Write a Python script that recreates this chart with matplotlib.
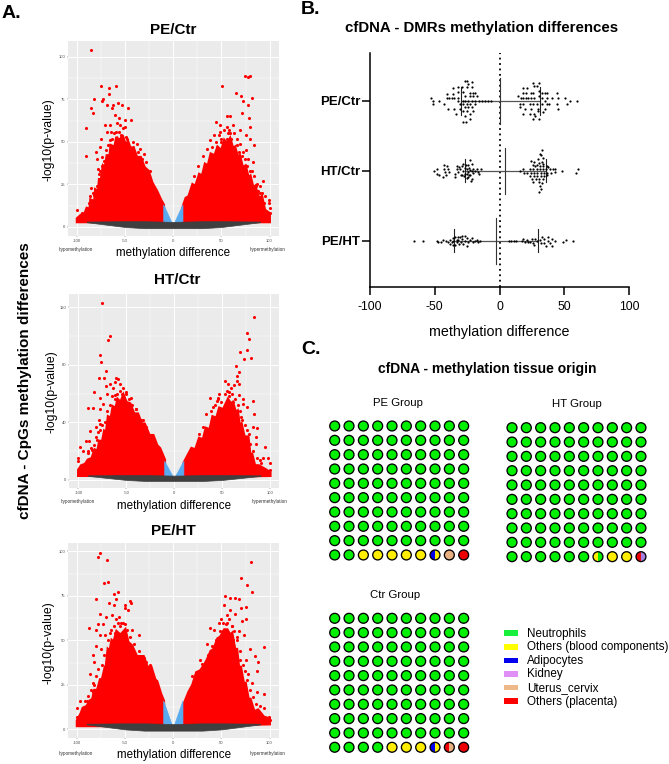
"""Recreate the cfDNA methylation figure (volcano plots, swarm plot, waffle charts)."""

import matplotlib.pyplot as plt
from matplotlib.patches import Circle, Rectangle, Wedge

plt.rcParams["font.family"] = ["Liberation Sans", "DejaVu Sans"]

W, H = 669, 764

# Panel A: outline of the solid red cloud, then the points standing clear of it
pe_ctr_red_x = [-100, -96, -92, -90, -87, -86, -82, -81, -78, -77, -75, -73, -71, -69, -66, -65, -61, -59, -56,
                -53, -50, -47, -44, -41, -38, -34, -30, -26, -22, -17, -13, -10, -10, -100]
pe_ctr_red_y = [5, 7, 8, 11, 10, 16, 15, 22, 21, 28, 28, 36, 35, 42, 42, 48, 47, 53, 50,
                54, 49, 50, 45, 46, 41, 41, 35, 33, 26, 21, 16, 13, 3, 3]
pe_ctr_red_rx = [10, 13, 16, 20, 23, 27, 30, 33, 36, 39, 43, 46, 50, 53, 56, 59, 62, 64, 67, 69, 72, 75, 78, 80,
                 83, 85, 89, 92, 95, 100, 100, 10]
pe_ctr_red_ry = [12, 17, 18, 25, 24, 31, 30, 37, 36, 43, 42, 47, 45, 51, 49, 52, 46, 47, 41, 42, 35, 36, 29, 30,
                 23, 24, 17, 18, 10, 8, 3, 3]
pe_ctr_out_x = [-86, -75, -67, -60, -67, -82, -73, -74, -86, -84, -91, -91, -69, -63, -58, -53, -47, -64,
                -61, -56, -50, -44, -71, -66, -59, -50, -69, -62, -56, -49, -75, -66, -59, -42, -38, -76,
                -80, -79, -74, -78, -76, -86, -87, -82, -88, -90, -100, -95, -35, -31, -28, -24, -80,
                50.3, 65.6, 70.5, 72, 74.6, 77.4, 80, 82, 78, 71, 79, 55.6, 59, 44, 48.6, 55.6, 62.5, 80,
                69, 48.6, 59, 75, 42, 55.6, 66, 80, 38, 50, 69, 84, 35, 62.5, 76, 71, 78, 83, 82, 93, 87,
                90, 95.5, 99, 99, 100, 100, 31, 26, 21, 88.5, 94, 83, 88.5,
                -84, -83, -80, -79, -77, -77, -74, -72, -70, -68, -64, -60, -57, -54, -52, -48, -45, -42, -37, -33,
                -65, -55, 40, 44, 47, 50, 53, 57, 60, 63, 66, 68, 72, 74, 77, 80, 84, 86, 90, 92, 58, 45]
pe_ctr_out_y = [104, 83, 82, 83, 78, 75, 75, 74, 70, 67, 58, 42, 72, 72, 73, 72, 70, 70,
                66, 64, 63, 63, 60, 60, 61, 59, 56, 55, 56, 53, 52, 51, 50, 50, 49, 47,
                44, 40, 41, 34, 33, 23, 18, 19, 14, 11, 10, 8, 46, 43, 38, 33, 14,
                83, 79, 77, 74, 89, 88, 89, 76, 72, 67, 64, 65, 65, 62, 60, 59, 60, 59,
                57, 56, 55, 54, 54, 52, 52, 52, 51, 50, 49, 48, 46, 47, 45, 42, 40, 38, 33, 27, 25,
                20, 18, 16, 14, 11, 8, 42, 36, 30, 16, 14, 18, 21,
                15, 20, 17, 24, 25, 31, 36, 39, 45, 48, 52, 56, 52, 54, 58, 52, 47, 47, 44, 40,
                56, 60, 47, 50, 54, 52, 57, 55, 52, 55, 48, 44, 44, 40, 36, 33, 30, 24, 24, 20, 57, 47]

ht_ctr_red_x = [-100, -97, -93, -90, -86, -83, -80, -78, -75, -73, -71, -69, -66, -64, -61, -59, -56, -53, -50,
                -46, -42, -38, -34, -31, -26, -22, -18, -15, -10, -10, -100]
ht_ctr_red_y = [7, 10, 11, 14, 15, 21, 20, 27, 27, 34, 33, 44, 43, 51, 50, 56, 54, 59, 54,
                53, 46, 46, 39, 39, 31, 31, 24, 22, 14, 3, 3]
ht_ctr_red_rx = [10, 14, 18, 22, 26, 30, 33, 37, 40, 44, 47, 51, 56, 59, 61, 64, 66, 68, 70, 73, 77, 79, 81, 84,
                 88, 96, 100, 100, 10]
ht_ctr_red_ry = [12, 17, 22, 21, 29, 28, 36, 35, 44, 43, 50, 49, 56, 53, 54, 47, 48, 38, 39, 30, 30, 18, 18, 10,
                 10, 7, 5, 3, 2]
ht_ctr_out_x = [-75, -67, -69, -78, -76, -71, -79, -73, -61, -59, -67, -62, -57, -71, -64, -84, -70, -62,
                -50, -45, -78, -74, -90, -85, -78, -60, -53, -79, -82, -78, -88, -92, -89, -98, -95, -90,
                -86, -81, -100, -100, -97, -40, -33, -29, -21, -78,
                83.5, 76, 78, 68, 75.6, 80, 72.8, 64.5, 67, 65, 65, 53, 55.6, 59.6, 62, 67, 47, 57, 67, 37,
                45.6, 72, 82, 61, 30, 26, 40, 33, 83.5, 72, 76, 70, 82, 86, 78, 85, 95, 85, 92, 97.4,
                100, 100, 89,
                -90, -87, -84, -82, -80, -77, -75, -72, -70, -67, -62, -60, -57, -54, -50, -47, -44, -40, -35,
                -65, -55, 38, 42, 46, 49, 53, 57, 60, 63, 66, 69, 71, 74, 76, 79, 82, 86, 90, 55, 45]
ht_ctr_out_y = [123, 100, 97, 87, 82, 76, 71, 71, 71, 70, 67, 68, 67, 65, 64, 61, 60, 59,
                61, 57, 57, 53, 50, 50, 49, 54, 53, 42, 37, 39, 34, 27, 27, 23, 20, 19,
                21, 28, 15, 13, 9, 49, 42, 37, 28, 23,
                113, 102, 98, 89, 90, 85, 84, 79, 75, 72, 69, 69, 67, 64, 66, 67, 60, 61, 59, 57,
                57, 56, 55, 54, 37, 32, 51, 46, 46, 53, 51, 44, 37, 36, 32, 30, 23, 25, 15, 15,
                12, 7, 14,
                20, 22, 24, 30, 33, 35, 38, 40, 48, 52, 56, 60, 62, 64, 60, 56, 52, 49, 42,
                58, 60, 48, 52, 56, 54, 60, 58, 60, 56, 52, 48, 42, 38, 35, 25, 20, 15, 12, 62, 55]

pe_ht_red_x = [-100, -96, -94, -90, -87, -84, -82, -79, -76, -74, -71, -70, -68, -66, -64, -62, -59, -55, -50,
               -47, -43, -38, -31, -27, -23, -19, -17, -13, -10, -10, -100]
pe_ht_red_y = [5, 9, 12, 13, 16, 17, 22, 22, 28, 28, 35, 35, 45, 44, 50, 49, 55, 53, 56,
               49, 47, 41, 41, 35, 35, 28, 27, 20, 16, 2, 2]
pe_ht_red_rx = [10, 13, 16, 20, 24, 28, 32, 35, 39, 42, 46, 49, 53, 56, 59, 61, 64, 66, 68, 70, 73, 75, 78, 80,
                84, 88, 94, 100, 100, 10]
pe_ht_red_ry = [13, 17, 21, 25, 32, 33, 36, 39, 44, 45, 51, 52, 56, 56, 53, 54, 45, 45, 35, 35, 26, 26, 17, 17,
                10, 11, 7, 6, 3, 2]
pe_ht_out_x = [-76, -78, -69, -72, -68, -62, -58, -60, -80, -67, -62, -45, -44, -50, -50, -47, -76, -70,
               -64, -57, -54, -50, -88, -78, -73, -80, -76, -71, -61, -36, -43, -80, -75, -84, -82, -87,
               -82, -79, -97, -90, -85, -100, -100, -31, -23, -83,
               81, 70, 77, 82, 54, 59, 64, 68, 75, 53, 70, 59, 64, 55.6, 76, 71, 47, 55.6, 38, 42,
               61, 68, 52, 73, 35, 66, 94, 80, 85, 88.5, 75, 87, 78, 94, 87, 82, 90, 99, 100, 94, 28, 19, 69,
               -92, -89, -86, -84, -80, -78, -74, -72, -68, -66, -62, -58, -55, -52, -48, -45, -41, -36, -28, -24,
               -60, -65, 30, 36, 40, 44, 48, 52, 55, 58, 61, 63, 66, 69, 72, 74, 77, 80, 83, 86, 50, 62]
pe_ht_out_y = [99, 97, 95, 82, 83, 76, 77, 73, 73, 71, 70, 72, 71, 70, 68, 67, 65, 63,
               64, 63, 60, 59, 57, 59, 59, 56, 53, 53, 54, 53, 56, 47, 45, 42, 38, 31,
               25, 22, 16, 16, 16, 12, 7, 40, 34, 21,
               94, 85, 81, 77, 75, 74, 74, 73, 69, 70, 68, 67, 65, 64, 62, 61, 60, 60, 57, 56,
               58, 55, 55, 53, 48, 52, 46, 45, 41, 38, 39, 33, 31, 20, 21, 26, 13, 7, 5, 12, 39, 30, 39,
               16, 19, 22, 26, 30, 34, 36, 42, 50, 54, 58, 60, 58, 60, 56, 52, 48, 44, 38, 36,
               62, 56, 37, 42, 47, 50, 55, 60, 59, 62, 58, 55, 50, 44, 36, 33, 28, 22, 18, 14, 62, 50]

# thin band of non-significant CpGs along the bottom of each volcano
grey_x = [-90, -70, -50, -30, 0, 30, 50, 70, 90]
grey_top = [3.2, 3.3, 3.4, 3.4, 3.0, 3.4, 3.4, 3.3, 3.2]
grey_bottom = [2.8, 1.4, 0, -0.7, -0.7, -0.7, 0, 1.4, 2.8]

volcano_titles = ["PE/Ctr", "HT/Ctr", "PE/HT"]
volcano_yticks = [[0, 25, 50, 75, 100], [0, 40, 80, 120], [0, 25, 50, 75, 100]]
volcano_ylims = [(-5.3, 109.4), (-5.8, 129.2), (-5, 104.5)]
blue_heights = [13, 13, 16]

# Panel B: values, and how far each dot sits above its row in pixels
pe_ctr_x = [-53.2, -51.1, -51.6, -46.7, -42.6, -40.3, -40.3, -38.7, -36.4, -35.6, -35.6, -34.9, -39.5, -34.9,
            -33.6, -31.8, -31.8, -32.3, -32.3, -30.5, -30.5, -29.2, -26.7, -25.4, -24.1, -21.5, -25.4, -21.5,
            -28, -22.8, -20.2, -18.9, -26.7, -22.8, -20.2, -17.6, -28.5, -26.7, -24.1, -21.5, -18.9, -15.6,
            -13.8, -11.2, -8.6, -6.8, -28, -25.4, -22.8, -18.9, -26.7, -24.1, -21.5, -28.5, -24.9, -20.2,
            -22.8, -26.7, -22.8, -28, -26,
            14.5, 16.6, 18.4, 20.2, 21.7, 17.9, 21.5, 17.9, 20.2, 24.1, 26.1, 25.6, 30.8, 26.6, 28.7, 30.8,
            32.6, 35.1, 36.4, 44.1, 40.3, 36.9, 45.4, 30.8, 26.6, 24.1, 32.6, 35.1, 15.8, 18.4, 23.5, 25.6,
            28.7, 32.6, 36.4, 38.5, 44.1, 50.6, 54.4, 51.9, 59.6, 15.8, 19.7, 24.1, 30, 35.1, 44.9, 33.8,
            18.4, 23.5, 26.6, 30, 27.4, 26.1, 30.8]
pe_ctr_off = [3, 0, -3, 0, -3, 7, 3, 3, 3, 13, 7, 3, -8, -8,
              -13, 14, 9, 3, 0, -3, -8, 14, 20, 20, 17, 19, 14, 14,
              9, 8, 8, 8, 5, 5, 5, 5, 0, 0, 0, 0, 0, 0,
              0, 0, 0, 0, -3, -3, -3, -3, -6, -6, -6, -10, -10, -10,
              -13, -15, -18, -21, -21,
              5, 3, 3, 3, 3, 13, 13, 8, 8, 8, 8, 18, 18, 15, 15, 10,
              8, 8, 8, 8, 3, 3, 3, 5, 3, 3, 3, 0, -3, -3, -3, -3,
              -3, -3, -3, -3, -3, 3, 0, -3, 0, -6, -8, -8, -8, -8, -8, -11,
              -13, -13, -13, -10, -15, -18, -18]
ht_ctr_x = [-50.6, -48.5, -48, -46.5, -43.9, -42.9, -42.9, -42.1, -41.3, -39.5, -38.7, -40.8, -34.4, -34.4,
            -33.1, -32.6, -31.8, -30.5, -30, -29.2, -28.5, -27.4, -25.9, -25.4, -25.4, -24.1, -23.3, -24.1,
            -22.8, -21.5, -21.5, -22.8, -21.5, -26.7, -24.1, -20.2, -18.9, -17.6, -16.4, -14.6, -15.6, -22.3,
            -29.2, -31, -28, -26.7, -22.8, -20.2, -25.4, -23.3,
            32.6, 31.3, 31.8, 30, 33.3, 24.1, 26.6, 30.8, 32.6, 33.8, 25.6, 27.4, 29.2, 31.3, 33.8, 36.4,
            37.7, 23.5, 26.1, 28.7, 31.3, 33.8, 35.9, 39, 41, 42.8, 48, 42.8, 18.4, 15.8, 18.9, 21.5, 24.1,
            26.6, 29.2, 31.8, 34.4, 36.9, 39.5, 23.5, 26.6, 29.2, 31.8, 34.4, 36.9, 24.8, 28.2, 30.8, 33.3,
            25.6, 30.8, 32.6, 31.3, 31.8, 30.8, 60.9, 59.1]
ht_ctr_off = [0, 2, -3, -4, -6, 6, 2, -1, -4, 2, -1, 5, -3, -6,
              2, 5, -1, 2, -4, 5, 0, -5, 6, 2, -3, 6, 3, -6,
              11, 7, 0, -4, -8, -3, -1, 2, 0, 2, -1, 2, -3, -10,
              -4, 4, 7, 3, 1, -2, -7, -4,
              21, 17, 16, 12, 13, 10, 9, 8, 9, 7, 6, 5, 6, 5, 5, 5,
              4, 2, 2, 2, 2, 2, 2, 2, 2, 2, 0, -1, 2, 0, -2, -2, -2,
              -2, -2, -2, -2, -2, -2, -5, -5, -5, -5, -5, -4, -8, -8, -8, -8,
              -11, -11, -12, -15, -18, -21, 2, -2]
pe_ht_x = [-65.8, -58.8, -48.5, -47.3, -45.2, -43.4, -41.6, -39.5, -38.2, -37, -35.7, -35.7, -35.7, -34.4,
           -33.1, -31.8, -31.3, -30.5, -29.8, -28.7, -28, -26.7, -26.7, -25.4, -25.4, -24.1, -22.8, -21.5,
           -20.2, -19, -17.7, -16.4, -15.1, -33.1, -34.4, -38.2, -29.2, -32.3,
           7.2, 8.5, 11, 13, 17.1, 18.4, 19.6, 20.9, 22.2, 23.5, 24.8, 26.1, 27.4, 28.7, 26.9, 31.2, 32, 33,
           34.6, 34.6, 35.6, 37.1, 37.7, 38.9, 40.2, 40.2, 42.8, 49.2, 51.3, 57]
pe_ht_off = [0, 0, 0, -1, -1, 1, 0, -1, 1, -1, 3, 0, -4, 4,
             -1, 1, -3, 4, -1, 2, -3, 5, 0, -5, 3, -1, 1, 3,
             -1, 0, 1, -1, 0, 1, -4, -3, 5, 4,
             0, 0, 0, 0, 0, 2, -1, 1, -1, -1, 2, -2, 2, 0, -4, 1, -2, 4,
             2, -2, -5, 4, 0, -2, 2, -5, 0, -1, 1, 0]

row_labels = ["PE/Ctr", "HT/Ctr", "PE/HT"]
row_pos = [3, 2, 1]
swarm_means = [0.4, 4.5, -3]
swarm_low = [-30, -27, -35]
swarm_high = [31, 36, 30]
cap_half_px = [14, 11.5, 11.5]

# Panel C: codes for the bottom row of each waffle, pairs are half-and-half dots
tissue_names = ["Neutrophils", "Others (blood components)", "Adipocytes", "Kidney", "Uterus_cervix", "Others (placenta)"]
tissue_colors = {"n": "#00f000", "y": "#ffee00", "a": "#0000ee", "k": "#a080e0", "u": "#e8b080", "r": "#ee0000"}
legend_colors = ["#19f03c", "#ffff00", "#0000ee", "#df8ff5", "#eeb888", "#ff0000"]
pe_last = ["n", "n", "y", "y", "y", "y", "y", ("y", "a"), "u", "r"]
ht_last = ["n", "n", "n", "n", "n", "n", ("n", "y"), "y", "y", ("k", "r")]
ctr_last = ["n", "n", "n", "n", "y", "y", "y", ("y", "a"), ("u", "r"), "r"]


def px_axes(fig, left, top, right, bottom):
    """Add axes given by pixel edges measured from the top left."""
    return fig.add_axes([left / W, 1 - bottom / H, (right - left) / W, (bottom - top) / H])


def px_text(fig, x, y, s, **kwargs):
    kwargs.setdefault("ha", "center")
    kwargs.setdefault("va", "center")
    fig.text(x / W, 1 - y / H, s, **kwargs)


def volcano(ax, left, right, out_x, out_y, yticks, ylim, blue_h):
    ax.set_facecolor("#ebebeb")
    for side in ax.spines.values():
        side.set_visible(False)
    ax.set_xlim(-109.5, 109.5)
    ax.set_ylim(*ylim)
    ax.set_xticks([-100, -50, 0, 50, 100])
    ax.set_xticklabels(["-100", "-50", "0", "50", "100"])
    ax.set_yticks(yticks)
    ax.set_xticks([-75, -25, 25, 75], minor=True)
    step = yticks[1] - yticks[0]
    ax.set_yticks([t + step / 2 for t in yticks[:-1]], minor=True)
    ax.grid(True, which="major", color="white", lw=0.7)
    ax.grid(True, which="minor", color="white", lw=0.3)
    ax.set_axisbelow(True)
    ax.tick_params(which="major", labelsize=3, colors="#4d4d4d", length=1, width=0.3, pad=1)
    ax.tick_params(which="minor", length=0)
    ax.fill(*left, color="red", lw=2)
    ax.fill(*right, color="red", lw=2)
    ax.scatter(out_x, out_y, s=5, color="red", lw=0)
    ax.fill([-10, -10, -1], [blue_h, 3, 2], color="#5aaaf0", lw=0.5)
    ax.fill([10, 10, 1], [blue_h, 3, 2], color="#5aaaf0", lw=0.5)
    ax.fill_between(grey_x, grey_bottom, grey_top, color="#3f3f3f", lw=0.5)


def swarm(ax):
    ax.set_xlim(-100, 100)
    ax.set_ylim(0.339, 3.681)
    ax.axvline(0, color="black", ls=(0, (1, 2)), lw=1.3, zorder=1)
    series = [(pe_ctr_x, pe_ctr_off), (ht_ctr_x, ht_ctr_off), (pe_ht_x, pe_ht_off)]
    for i, (xs, offs) in enumerate(series):
        y = row_pos[i]
        ax.scatter(xs, [y + o / 70 for o in offs], s=2.5, color="black", lw=0, zorder=3)
        ax.plot([swarm_low[i], swarm_high[i]], [y, y], color="#555555", lw=0.9, zorder=2)
        ax.plot([swarm_means[i]] * 2, [y - 23 / 70, y + 23 / 70], color="#333333", lw=0.8, zorder=2)
        for v in (swarm_low[i], swarm_high[i]):
            ax.plot([v, v], [y - cap_half_px[i] / 70, y + cap_half_px[i] / 70], color="#222222", lw=0.8, zorder=2)
    ax.spines[["top", "right"]].set_visible(False)
    ax.spines[["left", "bottom"]].set_linewidth(1.1)
    ax.set_xticks([-100, -50, 0, 50, 100])
    ax.set_xticklabels(["-100", "-50", "0", "50", "100"])
    ax.set_yticks(row_pos)
    ax.set_yticklabels(row_labels, fontweight="bold", fontsize=9.5)
    ax.tick_params(axis="both", length=5.5, width=1.1)
    ax.tick_params(axis="x", labelsize=8.7, pad=4.5)
    ax.tick_params(axis="y", pad=1.5)
    ax.set_xlabel("methylation difference", fontsize=10.3, labelpad=8.5)


def waffle(ax, last_row):
    ax.set_xlim(-0.5, 9.5)
    ax.set_ylim(9.5, -0.5)
    ax.axis("off")
    r = 0.345
    for row in range(10):
        for col in range(10):
            code = last_row[col] if row == 9 else "n"
            if isinstance(code, tuple):
                ax.add_patch(Wedge((col, row), r, 90, 270, fc=tissue_colors[code[1]], lw=0))
                ax.add_patch(Wedge((col, row), r, 270, 90, fc=tissue_colors[code[0]], lw=0))
                ax.add_patch(Circle((col, row), r, fc="none", ec="black", lw=0.95))
            else:
                ax.add_patch(Circle((col, row), r, fc=tissue_colors[code], ec="black", lw=0.95))


def main():
    fig = plt.figure(figsize=(W / 100, H / 100), dpi=100)

    boxes = [(68, 41, 278.7, 236), (69.3, 294, 279.3, 488.3), (68, 543.3, 278.7, 738.3)]
    polys = [
        ((pe_ctr_red_x, pe_ctr_red_y), (pe_ctr_red_rx, pe_ctr_red_ry), pe_ctr_out_x, pe_ctr_out_y),
        ((ht_ctr_red_x, ht_ctr_red_y), (ht_ctr_red_rx, ht_ctr_red_ry), ht_ctr_out_x, ht_ctr_out_y),
        ((pe_ht_red_x, pe_ht_red_y), (pe_ht_red_rx, pe_ht_red_ry), pe_ht_out_x, pe_ht_out_y),
    ]
    title_y = [29.5, 280, 531]
    title_x = [173, 177, 173]
    xlabel_x = [173, 174, 174]
    ylabel_pos = [(49, 140), (52, 392), (49, 643)]
    xlabel_y = [253, 505.5, 755]
    note_y = [249, 501, 753]
    for i, box in enumerate(boxes):
        ax = px_axes(fig, *box)
        left, right, ox, oy = polys[i]
        volcano(ax, left, right, ox, oy, volcano_yticks[i], volcano_ylims[i], blue_heights[i])
        px_text(fig, title_x[i], title_y[i], volcano_titles[i], fontsize=11, fontweight="bold")
        px_text(fig, ylabel_pos[i][0], ylabel_pos[i][1], "-log10(p-value)", fontsize=8.8, rotation=90)
        px_text(fig, xlabel_x[i], xlabel_y[i], "methylation difference", fontsize=8.4)
        px_text(fig, box[0] + 8, note_y[i], "hypomethylation", fontsize=3.3, color="#333333")
        px_text(fig, box[0] + 200, note_y[i], "hypermethylation", fontsize=3.3, color="#333333")

    px_text(fig, 25, 381, "cfDNA - CpGs methylation differences", fontsize=11, fontweight="bold", rotation=90)
    px_text(fig, 2, 14, "A.", fontsize=14, fontweight="bold", ha="left")
    px_text(fig, 301, 10, "B.", fontsize=14, fontweight="bold", ha="left")
    px_text(fig, 301, 349, "C.", fontsize=14, fontweight="bold", ha="left")

    swarm(px_axes(fig, 370, 53, 629, 287))
    px_text(fig, 481.7, 28, "cfDNA - DMRs methylation differences", fontsize=10.8, fontweight="bold")
    px_text(fig, 487, 369, "cfDNA - methylation tissue origin", fontsize=10, fontweight="bold")

    step = 14.33
    groups = [("PE Group", 334.7, 426, 397.7, 402.7, pe_last),
              ("HT Group", 512, 427.7, 576.7, 404, ht_last),
              ("Ctr Group", 334.7, 618.3, 395, 595, ctr_last)]
    for name, x0, y0, tx, ty, last in groups:
        ax = px_axes(fig, x0 - step / 2, y0 - step / 2, x0 + 9.5 * step, y0 + 9.5 * step)
        waffle(ax, last)
        px_text(fig, tx, ty, name, fontsize=8.2)

    # legend rows are evenly spaced by hand, fig.legend lets descenders shift them
    for i, (name, color) in enumerate(zip(tissue_names, legend_colors, strict=True)):
        y = 633.3 + i * 13.55
        fig.add_artist(Rectangle((504 / W, 1 - (y + 2.8) / H), 14 / W, 5.6 / H, transform=fig.transFigure,
                                 facecolor=color, lw=0))
        px_text(fig, 527.3, y + 3.5, name, fontsize=8.4, ha="left", va="baseline")

    fig.savefig("out.png", dpi=100)
    plt.close("all")


if __name__ == "__main__":
    main()
